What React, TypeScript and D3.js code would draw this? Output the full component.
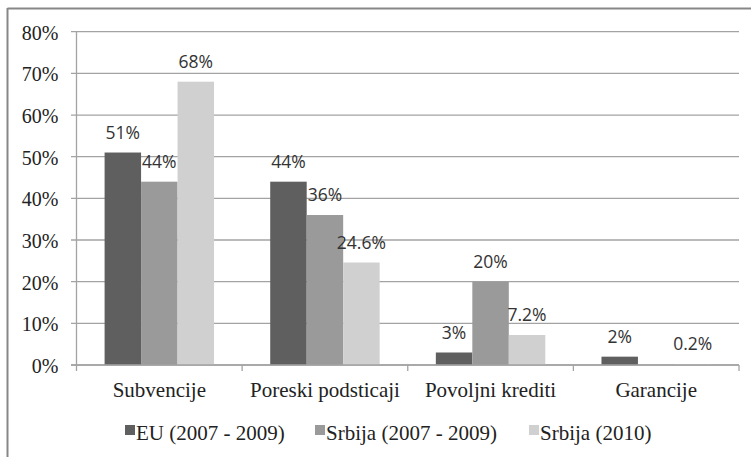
import React from "react";
import * as d3 from "d3";

const categories = ["Subvencije", "Poreski podsticaji", "Povoljni krediti", "Garancije"];
const seriesNames = ["EU (2007 - 2009)", "Srbija (2007 - 2009)", "Srbija (2010)"];
const euValues = [51, 44, 3, 2];
const srbija0709Values: (number | null)[] = [44, 36, 20, null];
const srbija2010Values = [68, 24.6, 7.2, 0.2];
const yTicks = [0, 10, 20, 30, 40, 50, 60, 70, 80];
const colors = ["#5f5f5f", "#9a9a9a", "#d0d0d0"];

const W = 751;
const H = 457;
const plot = { left: 76.5, right: 739, top: 31.7, bottom: 365 };
const serif = "'Liberation Serif', 'Times New Roman', serif";
const sans = "'Open Sans', 'DejaVu Sans', sans-serif";

const App: React.FC = () => {
  const allSeries = [euValues, srbija0709Values, srbija2010Values];

  const x0 = d3.scaleBand<string>().domain(categories).range([plot.left, plot.right]).padding(0);
  const x1 = d3
    .scaleBand<string>()
    .domain(seriesNames)
    .range([0, x0.bandwidth()])
    .paddingInner(0)
    .paddingOuter(0.77);
  const y = d3.scaleLinear().domain([0, 80]).range([plot.bottom, plot.top]);

  // legend positions (marker left edge)
  const legendX = [125, 315, 529];

  return (
    <div style={{ position: "fixed", left: 0, top: 0 }}>
      <svg width={W} height={H} style={{ display: "block", background: "#fff" }}>
        {/* frame */}
        <line x1={7.5} x2={W} y1={8.5} y2={8.5} stroke="#878787" strokeWidth={2} />
        <line x1={7.5} x2={7.5} y1={8} y2={H} stroke="#878787" strokeWidth={2} />

        {/* grid + y ticks */}
        {yTicks.map((t) => (
          <g key={t}>
            <line
              x1={plot.left - 5.5}
              x2={plot.right}
              y1={y(t)}
              y2={y(t)}
              stroke="#a3a3a3"
              strokeWidth={1.3}
            />
            <text
              x={58.5}
              y={y(t) + 8}
              textAnchor="end"
              fontFamily={serif}
              fontSize={20}
              fill="#222"
            >
              {`${t}%`}
            </text>
          </g>
        ))}

        {/* y axis line */}
        <line x1={plot.left} x2={plot.left} y1={plot.top} y2={plot.bottom} stroke="#a3a3a3" strokeWidth={1.3} />

        {/* bars */}
        {categories.map((c, ci) => (
          <g key={c} transform={`translate(${x0(c)},0)`}>
            {allSeries.map((vals, si) => {
              const v = vals[ci];
              if (v === null || v === undefined) return null;
              const bx = x1(seriesNames[si])!;
              return (
                <g key={si}>
                  <rect
                    x={bx}
                    y={y(v)}
                    width={x1.bandwidth()}
                    height={y(0) - y(v)}
                    fill={colors[si]}
                  />
                  <text
                    x={bx + x1.bandwidth() / 2}
                    y={y(v) - 14}
                    textAnchor="middle"
                    fontFamily={sans}
                    fontSize={17.5}
                    fill="#333"
                  >
                    {`${v}%`}
                  </text>
                </g>
              );
            })}
          </g>
        ))}

        {/* x axis */}
        <line x1={plot.left - 5.5} x2={plot.right} y1={plot.bottom} y2={plot.bottom} stroke="#a3a3a3" strokeWidth={1.3} />
        {categories.map((c, i) => (
          <line
            key={"tk" + i}
            x1={x0(c)!}
            x2={x0(c)!}
            y1={plot.bottom}
            y2={plot.bottom + 6}
            stroke="#a3a3a3"
            strokeWidth={1.3}
          />
        ))}
        <line x1={plot.right} x2={plot.right} y1={plot.bottom} y2={plot.bottom + 6} stroke="#a3a3a3" strokeWidth={1.3} />
        {categories.map((c) => (
          <text
            key={"lbl" + c}
            x={x0(c)! + x0.bandwidth() / 2}
            y={397}
            textAnchor="middle"
            fontFamily={serif}
            fontSize={21}
            fill="#222"
          >
            {c}
          </text>
        ))}

        {/* legend */}
        {seriesNames.map((s, i) => (
          <g key={"lg" + s}>
            <rect x={legendX[i]} y={425} width={10} height={10} fill={colors[i]} />
            <text x={legendX[i] + 11} y={440} fontFamily={serif} fontSize={21} fill="#222">
              {s}
            </text>
          </g>
        ))}
      </svg>
    </div>
  );
};

export default App;
